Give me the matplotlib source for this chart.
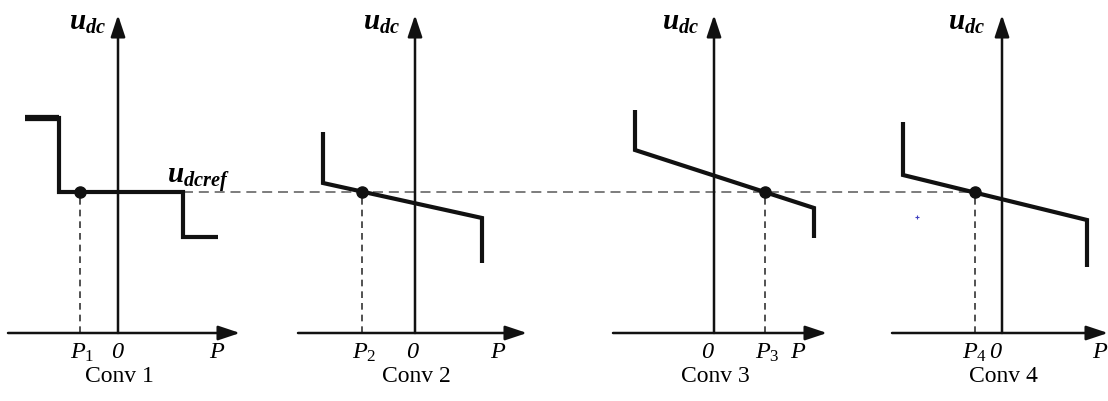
import matplotlib.pyplot as plt

plt.rcParams['font.family'] = 'Liberation Serif'
plt.rcParams['mathtext.fontset'] = 'custom'
plt.rcParams['mathtext.it'] = 'Liberation Serif:italic'
plt.rcParams['mathtext.rm'] = 'Liberation Serif'
plt.rcParams['mathtext.bf'] = 'Liberation Serif:italic:bold'

# droop characteristics of the four converters (P relative to the u axis, u above the P axis)
conv_names = ['Conv 1', 'Conv 2', 'Conv 3', 'Conv 4']
p_names = [r'$P_{\mathit{1}}$', r'$P_{\mathit{2}}$', r'$P_{\mathit{3}}$', r'$P_{\mathit{4}}$']
origin_x = [118, 415, 714, 1002]
axis_y = 333
axis_top = 318
axis_left = [-110, -117, -101, -110]
axis_right = [122, 112, 113, 106]

curve_p = [[-93, -59, -59, 65, 65, 100],
           [-92, -92, 67, 67],
           [-79, -79, 100, 100],
           [-99, -99, 85, 85]]
curve_u = [[215, 215, 141, 141, 96, 96],
           [201, 150, 115, 70],
           [223, 183, 125, 95],
           [211, 158, 113, 66]]
op_p = [-38, -53, 51, -27]
u_ref = 141

# label offsets along P
zero_pos = [-1, -3, -7, -7]
p_pos = [99, 83, 84, 98]
udc_pos = [-30, -33, -33, -35]

fig = plt.figure(figsize=(11.08, 4.01), dpi=100)
ax = fig.add_axes([0, 0, 1, 1])
ax.set_xlim(0, 1108)
ax.set_ylim(401, 0)
ax.axis('off')

arrow = dict(arrowstyle='-|>,head_length=0.6,head_width=0.2', color='#111111',
             lw=1.8, shrinkA=0, shrinkB=0, mutation_scale=22)

for i in range(4):
    x0 = origin_x[i]
    # axes with arrows
    ax.annotate('', xy=(x0 + axis_right[i], axis_y), xytext=(x0 + axis_left[i], axis_y),
                arrowprops=arrow)
    ax.annotate('', xy=(x0, axis_y - axis_top), xytext=(x0, axis_y), arrowprops=arrow)

    xs = [x0 + p for p in curve_p[i]]
    ys = [axis_y - u for u in curve_u[i]]
    ax.plot(xs, ys, color='#111111', lw=3, solid_joinstyle='miter', solid_capstyle='butt')
    if i == 0:
        ax.plot(xs[:2], ys[:2], color='#111111', lw=4.5, solid_capstyle='butt')

    # operating point
    xp = x0 + op_p[i]
    ax.plot([xp, xp], [axis_y, axis_y - u_ref], color='#333333', lw=1.2,
            linestyle=(0, (4, 3)))
    ax.plot(xp, axis_y - u_ref, 'o', color='#111111', markersize=8, zorder=5)

    ax.text(x0 + udc_pos[i], 23, r'$\mathbf{u}_{\mathbf{dc}}$', fontsize=21,
            ha='center', va='center')
    ax.text(xp + (2 if i != 3 else 0), 353, p_names[i], fontsize=17.5, ha='center', va='center')
    ax.text(x0 + zero_pos[i], 353, '0', fontsize=17.5, style='italic', ha='center', va='center')
    ax.text(x0 + p_pos[i], 353, 'P', fontsize=17.5, style='italic', ha='center', va='center')
    ax.text(x0 + 1, 377, conv_names[i], fontsize=17, ha='center', va='center')

# common reference voltage line
ax.plot([origin_x[0] + curve_p[0][3], origin_x[3] + op_p[3]],
        [axis_y - u_ref, axis_y - u_ref], color='#666666', lw=1.2, linestyle=(0, (6, 3.5)),
        zorder=1)
ax.text(167, 180, r'$\mathbf{u}_{\mathbf{dcref}}$', fontsize=21, ha='left', va='center')

# stray mark seen in the original
ax.plot(917, 217, '+', color='#4040c0', markersize=3, mew=0.8)

fig.savefig('out.png', dpi=100)
